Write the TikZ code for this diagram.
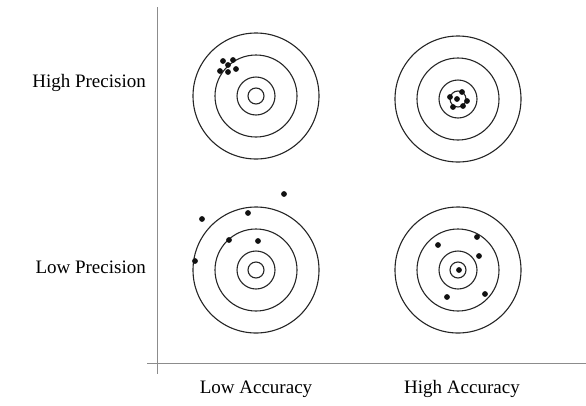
\documentclass[tikz,border=0pt]{standalone}
\usepackage{fontspec}
\setmainfont{Liberation Serif}
\usepackage{tikz}
\usetikzlibrary{positioning, calc}
\definecolor{ringdark}{HTML}{262626}
\definecolor{axisgray}{HTML}{8C8C8C}
\definecolor{shotblack}{HTML}{111111}

\tikzset{
  ring/.style={draw=ringdark, line width=1.1pt},
  shot/.style={fill=shotblack},
  axisline/.style={draw=axisgray, line width=0.9pt},
  rowlabel/.style={font=\fontsize{19}{22}\selectfont, anchor=east, inner sep=0pt},
  collabel/.style={font=\fontsize{19}{22}\selectfont, inner sep=0pt}
}

\begin{document}
\begin{tikzpicture}[x=1pt, y=-1pt]
  \useasboundingbox (0,0) rectangle (586,405);

  % axes
  \coordinate (ytop) at (157,7);
  \coordinate (ybot) at (157,374);
  \coordinate (xleft) at (147,363);
  \coordinate (xright) at (586,363);
  \draw[axisline] (ytop) -- (ybot);
  \draw[axisline] (xleft) -- (xright);

  % target centres
  \coordinate (lahp) at (256,96);
  \coordinate (hahp) at (458,99);
  \coordinate (lalp) at (256,270);
  \coordinate (halp) at (458,270);

  \foreach \c in {lahp,hahp,lalp,halp}
    \foreach \r in {8,19,41,63}
      \draw[ring] (\c) circle (\r);

  % shots
  \foreach \dx/\dy in {-33/-35,-23/-36,-28/-31,-36/-25,-28/-24,-20/-27}
    \fill[shot] ($(lahp)+(\dx,\dy)$) circle (2.9);
  \foreach \dx/\dy in {-8/-2,4/-7,9/2,-1/0,-5/8,5/7}
    \fill[shot] ($(hahp)+(\dx,\dy)$) circle (2.9);
  \foreach \dx/\dy in {28/-76,-54/-51,-8/-57,-27/-30,2/-29,-61/-9}
    \fill[shot] ($(lalp)+(\dx,\dy)$) circle (2.9);
  \foreach \dx/\dy in {-20/-25,19/-33,21/-14,1/0,-11/27,27/24}
    \fill[shot] ($(halp)+(\dx,\dy)$) circle (2.9);

  % labels
  \node[rowlabel] (highprec) at (146,83) {High Precision};
  \node[rowlabel] (lowprec) at (146,267) {Low Precision};
  \node[collabel] (lowacc) at (256,389) {Low Accuracy};
  \node[collabel] (highacc) at (462,389) {High Accuracy};
\end{tikzpicture}
\end{document}
